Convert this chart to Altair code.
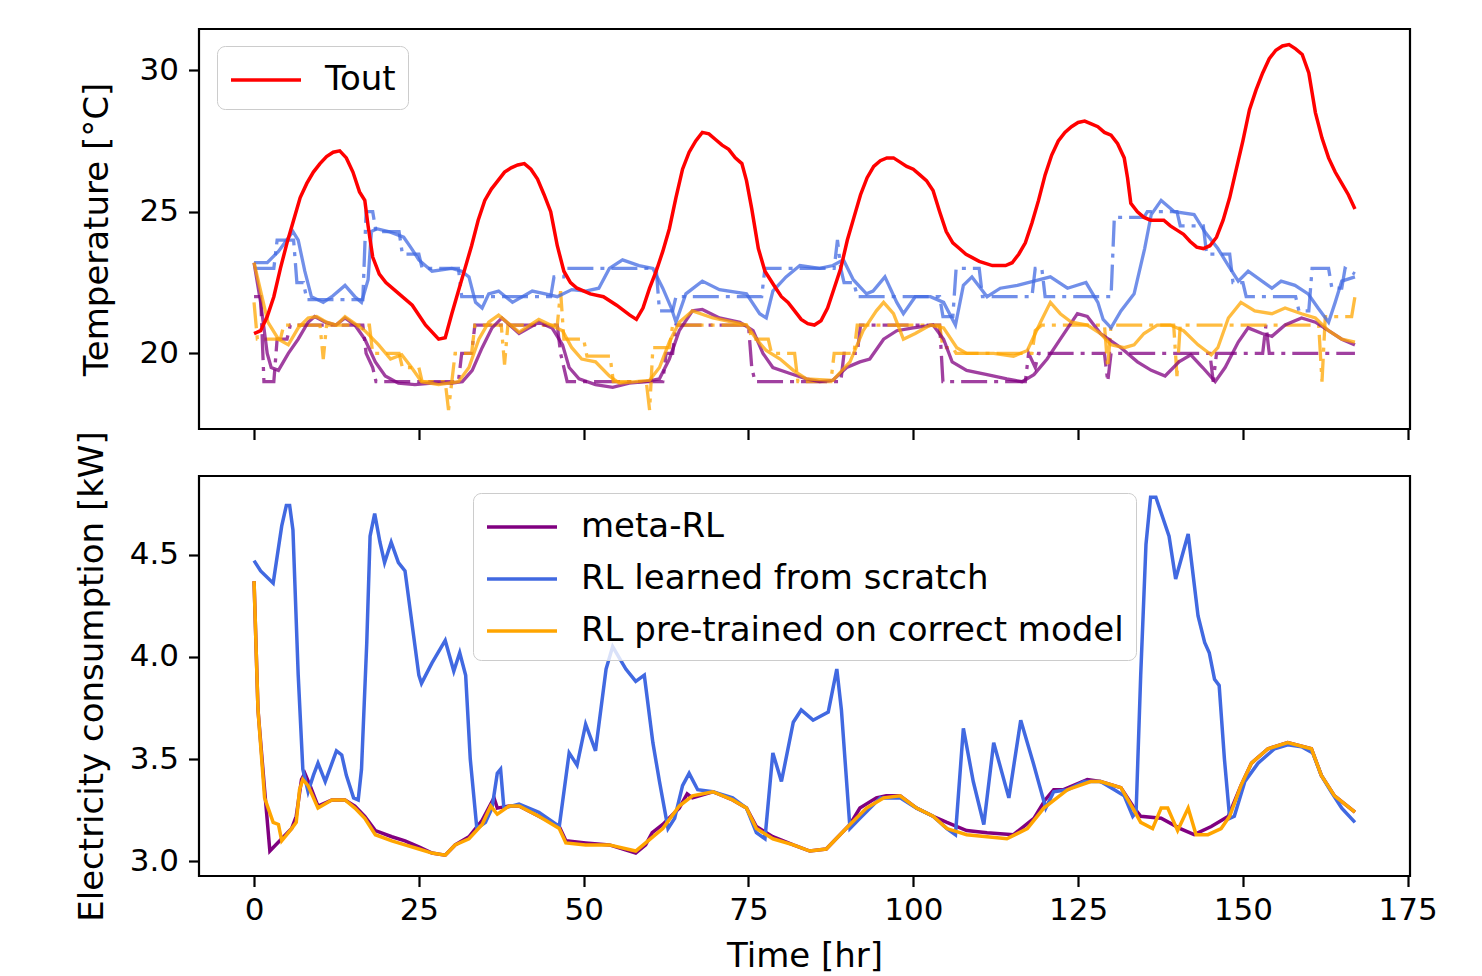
import altair as alt
import pandas as pd

# ---------------- data ----------------
# Outdoor temperature
TOUT_T = [0, 1, 2, 3, 4, 5, 6, 7, 8, 9, 10, 11, 12, 13, 14, 15, 16, 16.8, 17.3, 18, 19, 20, 22, 24, 26, 28, 29, 30, 31, 32, 33, 34, 35, 36,
          37, 38, 39, 40, 41, 42, 43, 44, 45, 46, 47, 48, 49, 51, 53, 55, 57, 58, 59, 60, 61, 62, 63, 64, 65, 66, 67, 68, 69, 70,
          71, 72, 73, 74, 74.7, 75.5, 76.5, 77.5, 79, 80, 81, 82, 83, 84, 85, 86, 87, 88, 89, 90, 91, 92, 93, 94, 95, 96, 97, 98,
          99, 100, 101, 102, 103, 104, 105, 106, 107, 108, 110, 112, 114, 115, 116, 117, 118, 119, 120, 121, 122, 123, 124, 125,
          126, 127, 128, 129, 130, 131, 132, 132.5, 133, 134, 135, 136, 138, 139, 140, 141, 142, 143, 144, 145, 146, 147, 148,
          149, 150, 151, 152, 153, 154, 155, 156, 157, 158, 159, 160, 160.5, 161, 162, 163, 164, 165, 166, 167]
TOUT_V = [20.7, 20.8, 21.3, 22.0, 23.0, 23.9, 24.7, 25.5, 26.0, 26.4, 26.7, 26.95, 27.1, 27.15, 26.9, 26.4, 25.7, 25.4, 24.5, 23.4,
          22.8, 22.5, 22.1, 21.7, 21.0, 20.5, 20.55, 21.4, 22.2, 23.0, 23.8, 24.7, 25.4, 25.8,
          26.1, 26.4, 26.55, 26.65, 26.7, 26.5, 26.15, 25.6, 25.0, 23.8, 22.9, 22.5, 22.3, 22.1, 22.0, 21.7, 21.35, 21.2, 21.6,
          22.3, 22.9, 23.6, 24.4, 25.5, 26.5, 27.1, 27.5, 27.8, 27.75, 27.55,
          27.35, 27.2, 26.9, 26.7, 26.1, 25.1, 23.7, 22.9, 22.35, 22.0, 21.8, 21.5, 21.2, 21.05, 21.0, 21.15, 21.6, 22.3, 23.0,
          24.0, 24.8, 25.6, 26.2, 26.6, 26.8, 26.9, 26.9, 26.75,
          26.6, 26.5, 26.3, 26.1, 25.75, 25.0, 24.3, 23.9, 23.7, 23.5, 23.25, 23.1, 23.1, 23.2, 23.5, 23.9, 24.6, 25.4, 26.3, 27.0,
          27.5, 27.8, 28.0, 28.15,
          28.2, 28.1, 28.0, 27.8, 27.7, 27.4, 26.9, 26.2, 25.3, 25.0, 24.8, 24.7, 24.7, 24.5, 24.35, 24.2, 23.95, 23.75, 23.7,
          23.8, 24.1, 24.7, 25.5,
          26.5, 27.5, 28.6, 29.3, 29.9, 30.4, 30.7, 30.85, 30.9, 30.75, 30.55, 29.9, 29.2, 28.5, 27.6, 26.9, 26.4, 26.0, 25.6, 25.1]

# Indoor temperatures (solid) for the three controllers
BLUE_T_T = [0, 2, 3.7, 5.9, 6.7, 7.7, 8.7, 10.5, 11.8, 13.8, 15.3, 16.3, 17.3, 17.8, 18.6, 20.4, 22.7, 23.9, 25, 27, 30, 31.5, 32.6,
            33.6, 34.6, 35.6, 37.1, 39.2, 42.2, 44.2, 46, 48.2, 50.3, 52.3, 53.9, 55.9, 58.4, 60.5, 62, 63.3, 64, 65.5, 68, 70.6,
            74.7, 76.7, 77.7, 78.7, 80.7, 82.8, 85.8, 87.8, 89.4, 90.9, 92.9, 93.9, 95.7, 97.5, 98.5, 100.3, 102.6, 104.6, 106.4,
            107.6, 108.9, 111.2, 113.2, 115.8, 118.3, 120.8, 123.4, 126.2, 128, 128.8, 130, 131.5, 133.5, 135.1, 136.1, 137.6,
            139.6, 142.6, 144.2, 146.2, 147.8, 149.3, 150.8, 152.9, 154.4, 155.8, 157.9, 159.9, 161.4, 163, 164, 165, 167]
BLUE_T_V = [23.2, 23.2, 23.6, 24.3, 24.0, 22.9, 22.0, 21.8, 22.0, 22.4, 22.0, 21.8, 22.6, 24.3, 24.4, 24.3, 24.1, 23.7, 23.3, 22.9,
            23.0, 22.9, 22.7, 21.8, 21.6, 22.1, 22.2, 21.8, 22.2, 22.1, 22.0, 22.25, 22.2, 22.3, 23.0, 23.3, 23.1, 23.0, 22.3, 21.6,
            21.1, 22.1, 22.55, 22.25, 22.1, 21.4, 21.25, 22.2, 22.7, 23.1, 23.0, 23.1, 23.3, 22.6, 22.1, 22.2, 22.7, 21.8, 21.4,
            22.0, 22.0, 21.8, 21.0, 22.4, 22.7, 22.0, 22.3, 22.4, 22.55, 22.7, 22.3, 22.5, 21.8, 21.2, 20.9, 21.5, 22.1, 23.7, 24.9,
            25.4, 25.0, 24.9, 24.3, 23.7, 23.1, 22.55, 22.9, 22.55, 22.3, 22.55, 22.4, 22.1, 21.6, 21.1, 21.8, 22.55, 22.7]

PURPLE_T_T = [0, 1, 2, 2.6, 3.7, 5.2, 6.7, 8.2, 9.2, 10.8, 12.4, 13.8, 15.3, 16.8, 18.4, 19.9, 21.9, 24.4, 27, 30, 31.6, 33.1, 34.6,
              36.1, 37.6, 40.2, 43.2, 45.2, 46.8, 47.8, 49.3, 51.8, 54.4, 56.9, 59.4, 61.5, 63, 64.5, 66.5, 68, 70.6, 73.7, 75.7,
              77.2, 78.7, 81.2, 83.8, 85.8, 87.8, 89.9, 91.9, 93.4, 95.5, 97.5, 100, 103, 104.6, 105.9, 108.1, 111.2, 114.2, 116.5,
              118.3, 120.3, 122.3, 124.9, 126.4, 128.4, 131.5, 134, 136.1, 138.2, 140.3, 142.1, 143.9, 145.8, 147.3, 149.3, 150.8,
              152.9, 154.4, 156.4, 158.9, 161, 163, 165, 167]
PURPLE_T_V = [23.2, 21.8, 20.0, 19.5, 19.4, 20.0, 20.5, 21.1, 21.3, 21.1, 21.0, 21.25, 21.0, 20.5, 19.7, 19.2, 18.95, 18.9, 18.95,
              18.95, 19.0, 19.4, 20.2, 20.9, 21.25, 20.7, 21.1, 20.9, 20.3, 19.5, 19.1, 18.9, 18.8, 18.95, 19.0, 19.1, 19.8, 20.8,
              21.5, 21.55, 21.25, 21.1, 20.8, 20.0, 19.5, 19.3, 19.1, 19.0, 19.05, 19.5, 19.7, 19.8, 20.5, 20.8, 20.9, 21.0, 20.5,
              19.7, 19.4, 19.25, 19.1, 19.0, 19.25, 19.8, 20.5, 21.4, 21.3, 20.7, 20.2, 19.7, 19.4, 19.2, 19.7, 19.95, 19.5, 19.0,
              19.5, 20.4, 20.9, 20.7, 20.6, 21.0, 21.25, 21.1, 20.8, 20.5, 20.3]

ORANGE_T_T = [0, 0.9, 2.1, 3.7, 5.2, 6.7, 8.2, 9.5, 11, 12.5, 13.8, 15.3, 16.8, 18.9, 20.7, 22.4, 23.9, 25.4, 28, 31, 32.6, 34.1,
              35.6, 37.1, 40.2, 43.2, 46.8, 48.2, 49.7, 51.8, 53.9, 55.4, 57.9, 60, 61.5, 63, 64.5, 66.5, 69.6, 74.7, 76.2, 77.7,
              79.8, 81.8, 83.8, 87.8, 90.4, 92.4, 94.4, 95.5, 97, 98.5, 100.3, 102.6, 104.6, 106.6, 108.1, 112.2, 115.2, 117.3,
              119.3, 120.8, 122.3, 124, 126.4, 128.4, 130, 132, 133.5, 135, 137, 139, 141, 143.2, 145.2, 146.2, 147.8, 149.7, 151.8,
              154.4, 156.4, 158.9, 161, 163, 165, 167]
ORANGE_T_V = [23.2, 22.3, 21.1, 20.5, 20.3, 20.9, 21.25, 21.3, 21.1, 21.0, 21.3, 21.05, 20.8, 20.3, 19.8, 19.95, 19.5, 19.0, 18.9,
              19.0, 19.5, 20.5, 21.1, 21.35, 20.75, 21.2, 20.8, 20.2, 19.8, 19.7, 19.2, 18.95, 19.0, 19.05, 19.5, 20.4, 21.1, 21.5,
              21.25, 21.0, 20.5, 20.1, 19.8, 19.4, 19.1, 19.05, 19.7, 20.8, 21.5, 21.8, 21.4, 20.5, 20.7, 21.0, 20.9, 20.2, 20.0,
              20.0, 19.9, 20.1, 21.1, 21.8, 21.4, 21.1, 21.0, 20.7, 20.3, 20.2, 20.3, 20.7, 21.0, 21.0, 20.8, 20.3, 19.95, 20.2,
              21.25, 21.8, 21.5, 21.4, 21.6, 21.4, 21.25, 20.8, 20.5, 20.4]

# Setpoints (dash-dot) for the three controllers
BLUE_S_T = [0, 3, 3.5, 6, 6.5, 7.5, 8, 16.5, 17, 18, 18.5, 22, 22.5, 25, 25.5, 31, 31.5, 45, 45.5, 47, 47.5, 61, 61.5, 63.5, 64,
            77, 77.5, 88, 88.5, 89, 89.5, 91, 91.5, 104, 104.5, 106, 106.5, 110, 110.5, 118, 118.5, 119.5, 120, 130, 130.5, 135,
            135.5, 140, 140.5, 144, 144.5, 148, 148.5, 150, 150.5, 158, 158.5, 160, 160.5, 163, 163.5, 165, 165.5, 167]
BLUE_S_V = [23.0, 23.0, 24.0, 24.0, 22.5, 22.5, 21.9, 21.9, 25.0, 25.0, 24.3, 24.3, 23.5, 23.5, 23.0, 23.0, 22.0, 22.0, 22.7, 22.7,
            23.0, 23.0, 21.5, 21.5, 22.0, 22.0, 23.0, 23.0, 24.0, 23.0, 22.5, 22.5, 22.0, 22.0, 21.3, 21.3, 23.0, 23.0, 22.0, 22.0,
            23.0, 23.0, 22.0, 22.0, 24.8, 24.8, 25.0, 25.0, 24.5, 24.5, 23.5, 23.5, 22.5, 22.5, 22.0, 22.0, 21.5, 21.5, 23.0, 23.0,
            22.3, 22.3, 23.0, 22.8]

PURPLE_S_T = [0, 1, 1.5, 3, 3.5, 5, 5.5, 16.5, 17, 18, 18.5, 31, 31.5, 33, 33.5, 46, 46.5, 47.5, 62, 62.5, 63.5, 64, 75, 75.5, 76,
              89, 89.5, 91.5, 92, 104, 104.5, 117, 117.5, 118.5, 119, 129, 129.5, 130, 145, 145.5, 146, 153, 153.5, 154, 167]
PURPLE_S_V = [22.0, 22.0, 19.0, 19.0, 20.5, 20.5, 21.0, 21.0, 20.0, 19.5, 19.0, 19.0, 20.0, 20.0, 21.0, 21.0, 20.0, 19.0, 19.0,
              20.0, 20.0, 21.0, 21.0, 19.5, 19.0, 19.0, 20.0, 20.0, 21.0, 21.0, 19.0, 19.0, 20.0, 19.5, 20.0, 20.0, 19.0, 20.0,
              20.0, 19.0, 20.0, 20.0, 21.0, 20.0, 20.0]

ORANGE_S_T = [0, 0.5, 4, 4.5, 10, 10.5, 11, 17.5, 18, 22, 22.5, 25, 25.5, 29, 29.5, 30, 30.5, 33, 33.5, 37.5, 38, 38.5, 46, 46.5,
              47, 50, 50.5, 54, 54.5, 59.5, 60, 60.5, 63, 63.5, 75, 75.5, 78, 78.5, 82, 82.5, 87.5, 88, 91, 91.5, 104, 104.5, 106,
              106.5, 118, 118.5, 119.5, 129, 129.5, 130, 139.5, 140, 140.5, 161.5, 162, 162.5, 166.5, 167]
ORANGE_S_V = [21.8, 20.5, 20.5, 21.0, 21.0, 19.8, 21.0, 21.0, 20.0, 20.0, 19.5, 19.5, 19.0, 19.0, 18.0, 19.0, 20.0, 20.0, 21.0,
              21.0, 19.6, 21.0, 21.0, 22.2, 20.5, 20.5, 19.9, 19.9, 19.0, 19.0, 18.0, 20.2, 20.2, 21.0, 21.0, 20.5, 20.5, 20.0,
              20.0, 19.0, 19.0, 20.0, 20.0, 21.0, 21.0, 20.2, 20.2, 20.0, 20.0, 20.8, 21.0, 21.0, 19.5, 21.0, 21.0, 19.2, 21.0,
              21.0, 19.0, 21.3, 21.3, 22.0]

# Electricity consumption [kW]
META_P_T = [0, 0.6, 1.6, 2.4, 3.9, 5.7, 6.4, 7.2, 7.7, 8.5, 9.7, 11.8, 13.8, 15.3, 16.8, 18.4, 20.9, 22.9, 25, 27, 29, 30.5, 32.6,
            34.6, 35.9, 36.4, 36.9, 38.7, 40.2, 43.2, 46.3, 47.3, 50.3, 53.9, 57.9, 59.4, 60.4, 62, 64.5, 65.7, 66.5, 69.6, 72.6,
            74.7, 76.2, 78.7, 81.8, 84.3, 86.8, 90.4, 91.9, 94.4, 95.9, 98, 100.5, 103, 105.1, 108.1, 111.2, 115.2, 118.3, 120,
            121.3, 122.8, 126.4, 128.4, 131.5, 133.3, 134.5, 137.6, 140.5, 142.6, 145.2, 147.8, 149.7, 151.3, 153.8, 156.8, 160.4,
            161.9, 163.9, 167]
META_P_V = [4.37, 3.74, 3.35, 3.05, 3.10, 3.16, 3.22, 3.40, 3.43, 3.37, 3.27, 3.30, 3.30, 3.27, 3.22, 3.15, 3.12, 3.10, 3.07, 3.04,
            3.03, 3.08, 3.12, 3.20, 3.28, 3.31, 3.26, 3.27, 3.27, 3.22, 3.17, 3.10, 3.09, 3.08, 3.04, 3.08, 3.14, 3.18, 3.26, 3.33,
            3.31, 3.34, 3.30, 3.26, 3.17, 3.12, 3.08, 3.05, 3.06, 3.18, 3.26, 3.31, 3.32, 3.32, 3.26, 3.22, 3.19, 3.15, 3.14, 3.13,
            3.21, 3.30, 3.35, 3.35, 3.40, 3.39, 3.36, 3.27, 3.22, 3.21, 3.16, 3.13, 3.17, 3.22, 3.37, 3.48, 3.55, 3.58, 3.55, 3.42,
            3.32, 3.24]

SCRATCH_P_T = [0, 1, 2.9, 4.2, 4.9, 5.4, 5.9, 6.7, 7.4, 8.2, 9, 9.7, 10.8, 12.5, 13.3, 14, 15.1, 15.8, 16.3, 17.1, 17.6, 18.3, 19.1,
               19.8, 20.8, 21.9, 22.9, 25, 25.4, 27, 29, 30.3, 31.2, 32.1, 32.8, 33.8, 35.1, 36.1, 36.9, 37.4, 37.9, 40.2, 43.2,
               46.3, 47.8, 49, 50.3, 51.8, 53.4, 54.4, 56.4, 57.9, 59.2, 60.5, 61.5, 62.8, 63.8, 65, 66, 67.3, 69.6, 72.6, 74.7,
               76.2, 77.5, 78.7, 80, 81.8, 83, 84.8, 87.1, 88.4, 89.1, 90.4, 91.9, 95, 98, 100.5, 103, 105.1, 106.4, 107.6, 109.1,
               110.7, 112.2, 114.5, 116.3, 118.3, 120.1, 121.3, 123.4, 125.9, 128.4, 130.5, 132, 133.3, 133.8, 134.5, 135.3, 136,
               136.8, 138.8, 139.8, 141.7, 143.2, 144.2, 144.9, 145.7, 146.4, 147.2, 148, 148.7, 150.3, 152.3, 154.8, 156.8, 158.9,
               160.6, 161.9, 163.4, 165, 167]
SCRATCH_P_V = [4.47, 4.42, 4.36, 4.64, 4.74, 4.74, 4.62, 3.91, 3.45, 3.34, 3.42, 3.48, 3.39, 3.54, 3.52, 3.42, 3.31, 3.30, 3.45,
               4.07, 4.59, 4.70, 4.56, 4.46, 4.56, 4.46, 4.42, 3.91, 3.87, 3.97, 4.08, 3.93, 4.02, 3.91, 3.50, 3.16, 3.19, 3.26,
               3.43, 3.45, 3.26, 3.28, 3.24, 3.17, 3.53, 3.47, 3.67, 3.54, 3.94, 4.05, 3.94, 3.88, 3.91, 3.58, 3.39, 3.16, 3.21,
               3.37, 3.43, 3.35, 3.34, 3.31, 3.26, 3.14, 3.11, 3.53, 3.39, 3.68, 3.74, 3.69, 3.73, 3.94, 3.74, 3.16, 3.21, 3.31,
               3.31, 3.26, 3.22, 3.16, 3.13, 3.65, 3.39, 3.18, 3.58, 3.31, 3.69, 3.47, 3.26, 3.34, 3.35, 3.39, 3.39, 3.35, 3.32,
               3.22, 3.24, 3.91, 4.55, 4.78, 4.78, 4.59, 4.38, 4.60, 4.20, 4.07, 4.02, 3.89, 3.86, 3.50, 3.21, 3.22, 3.39, 3.48,
               3.55, 3.57, 3.56, 3.53, 3.42, 3.34, 3.26, 3.19]

PRE_P_T = [0, 0.6, 1.6, 2.9, 3.7, 4.2, 5.7, 6.4, 6.9, 7.4, 8.2, 9.7, 11.8, 13.8, 15.3, 16.8, 18.4, 20.9, 22.9, 25, 27, 29, 30.5,
           32.6, 34.6, 35.9, 36.9, 38.7, 40.2, 43.2, 46.3, 47.3, 50.3, 53.9, 57.9, 59.4, 62, 64.5, 66.5, 69.6, 72.6, 74.7, 76.2,
           78.7, 81.8, 84.3, 86.8, 90.4, 92.9, 95.5, 98, 100.5, 103, 105.1, 108.1, 111.2, 114.2, 117.3, 119.8, 123.4, 126.9, 128.4,
           131.5, 133.3, 134.5, 136.3, 137.6, 138.6, 140.1, 141.7, 142.9, 144.7, 146.7, 148, 149.7, 151.3, 153.8, 156.8, 160.4,
           161.9, 163.9, 167]
PRE_P_V = [4.37, 3.74, 3.31, 3.19, 3.18, 3.10, 3.16, 3.19, 3.35, 3.40, 3.37, 3.26, 3.30, 3.30, 3.26, 3.21, 3.13, 3.10, 3.08, 3.06,
           3.04, 3.03, 3.08, 3.11, 3.18, 3.27, 3.23, 3.27, 3.27, 3.22, 3.16, 3.09, 3.08, 3.08, 3.05, 3.09, 3.16, 3.27, 3.32, 3.34,
           3.30, 3.26, 3.16, 3.11, 3.08, 3.05, 3.06, 3.18, 3.26, 3.31, 3.32, 3.26, 3.22, 3.16, 3.13, 3.12, 3.11, 3.16, 3.26, 3.35,
           3.39, 3.39, 3.36, 3.26, 3.19, 3.16, 3.26, 3.26, 3.15, 3.26, 3.13, 3.13, 3.16, 3.22, 3.37, 3.48, 3.55, 3.58, 3.55, 3.42,
           3.32, 3.24]

X_TICKS = [0, 25, 50, 75, 100, 125, 150, 175]
TEMP_TICKS = [20, 25, 30]
POWER_TICKS = [3.0, 3.5, 4.0, 4.5]
POWER_NAMES = ["meta-RL", "RL learned from scratch", "RL pre-trained on correct model"]
POWER_COLORS = ["purple", "royalblue", "orange"]


def frame(t, v, name):
    return pd.DataFrame({"t": t, "v": v, "s": name})


FONT = "DejaVu Sans"
W, H = 1211, 400
DASHDOT = [26, 7, 4, 7]
XSCALE = alt.Scale(domain=[-8.35, 175.35], nice=False, zero=False)

# ---------------- top panel ----------------
x_top = alt.X("t:Q", scale=XSCALE,
              axis=alt.Axis(values=X_TICKS, labels=False, title=None))
y_top = alt.Y("v:Q", scale=alt.Scale(domain=[17.33, 31.45], nice=False, zero=False),
              axis=alt.Axis(values=TEMP_TICKS, title="Temperature [°C]", titlePadding=25))


def top_line(t, v, color, dash=None):
    kw = dict(color=color, opacity=0.75, strokeWidth=3.3, clip=True)
    if dash:
        kw["strokeDash"] = dash
    return alt.Chart(frame(t, v, color)).mark_line(**kw).encode(x=x_top, y=y_top)


legend_style = dict(
    orient="none", title=None, labelFontSize=34, labelFont=FONT, labelColor="black", labelLimit=1000,
    symbolType="M-1.0,0L2.5,0", symbolSize=1600, symbolStrokeWidth=3.6,
    labelOffset=52, padding=12, rowPadding=13,
    strokeColor="#cccccc", fillColor="rgba(255,255,255,0.8)", cornerRadius=8,
)

tout_layer = alt.Chart(frame(TOUT_T, TOUT_V, "Tout")).mark_line(strokeWidth=3.5, clip=True).encode(
    x=x_top, y=y_top,
    color=alt.Color("s:N", scale=alt.Scale(domain=["Tout"], range=["red"]),
                    legend=alt.Legend(legendX=18, legendY=17, **legend_style)),
)

top = alt.layer(
    top_line(BLUE_S_T, BLUE_S_V, "royalblue", DASHDOT),
    top_line(PURPLE_S_T, PURPLE_S_V, "purple", DASHDOT),
    top_line(ORANGE_S_T, ORANGE_S_V, "orange", DASHDOT),
    top_line(BLUE_T_T, BLUE_T_V, "royalblue"),
    top_line(PURPLE_T_T, PURPLE_T_V, "purple"),
    top_line(ORANGE_T_T, ORANGE_T_V, "orange"),
    tout_layer,
).properties(width=W, height=H)

# ---------------- bottom panel ----------------
x_bot = alt.X("t:Q", scale=XSCALE, axis=alt.Axis(values=X_TICKS, title="Time [hr]", labelPadding=9, titlePadding=14))
y_bot = alt.Y("v:Q", scale=alt.Scale(domain=[2.928, 4.884], nice=False, zero=False),
              axis=alt.Axis(values=POWER_TICKS, format=".1f", title="Electricity consumption [kW]"))
color_bot = alt.Color("s:N", scale=alt.Scale(domain=POWER_NAMES, range=POWER_COLORS),
                      legend=alt.Legend(legendX=274, legendY=17, **legend_style))


def bot_line(t, v, name):
    return alt.Chart(frame(t, v, name)).mark_line(strokeWidth=3.5, clip=True).encode(
        x=x_bot, y=y_bot, color=color_bot)


bottom = alt.layer(
    bot_line(META_P_T, META_P_V, POWER_NAMES[0]),
    bot_line(SCRATCH_P_T, SCRATCH_P_V, POWER_NAMES[1]),
    bot_line(PRE_P_T, PRE_P_V, POWER_NAMES[2]),
).properties(width=W, height=H)

chart = alt.vconcat(top, bottom, spacing=47, bounds="flush").resolve_scale(
    color="independent", y="independent"
).configure(
    font=FONT, padding={"left": 66, "top": 19, "right": 5, "bottom": 2}, background="white"
).configure_view(
    stroke="black", strokeWidth=2.2
).configure_axis(
    domain=False, grid=False, tickColor="black", tickWidth=2.2, tickSize=10.5,
    labelFont=FONT, labelFontSize=31, labelColor="black", labelPadding=10,
    titleFont=FONT, titleFontSize=34, titleFontWeight="normal", titleColor="black", titlePadding=20,
)

chart.save("out.html", embed_options={"renderer": "svg", "actions": False})
